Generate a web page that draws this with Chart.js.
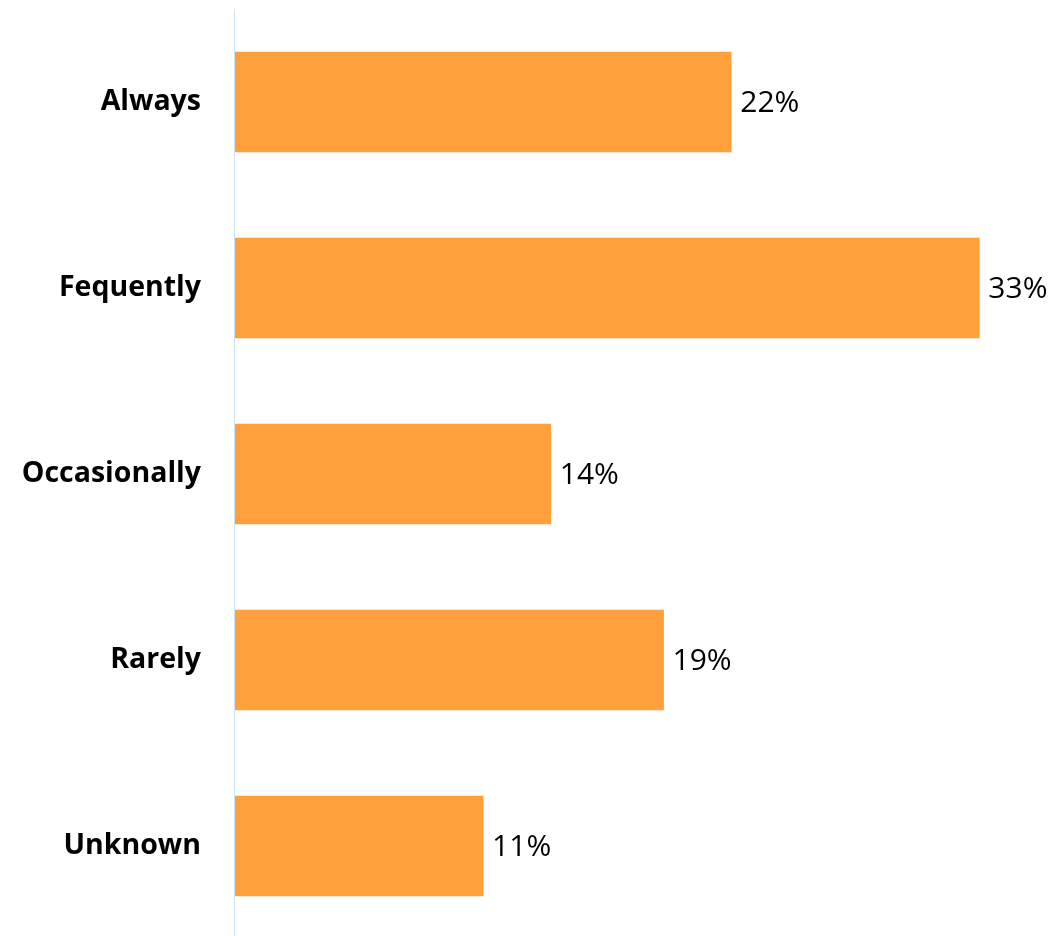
<!DOCTYPE html>
<html>
<head>
<meta charset="utf-8">
<title>Frequency</title>
<script src="https://cdn.jsdelivr.net/npm/chart.js@4/dist/chart.umd.min.js"></script>
<style>
  html, body { margin: 0; padding: 0; background: #ffffff; overflow: hidden; }
  #wrap { width: 1055px; height: 936px; overflow: hidden; }
  canvas { display: block; }
</style>
</head>
<body>
<div id="wrap"><canvas id="chart" width="1055" height="939"></canvas></div>
<script>
// Categories and their shares (percent)
const categories = ['Always', 'Fequently', 'Occasionally', 'Rarely', 'Unknown'];
const shares = [22, 33, 14, 19, 11];
const valueSuffix = '%';

const barColor = '#FFA03C';
const axisLineColor = '#CCE3F6';
const fontFamily = '"Open Sans", Lato, sans-serif';

// Thin vertical axis line just left of the bars' base
const axisLine = {
  id: 'axisLine',
  beforeDatasetsDraw(chart) {
    const { ctx, chartArea } = chart;
    ctx.save();
    ctx.strokeStyle = axisLineColor;
    ctx.lineWidth = 1;
    ctx.beginPath();
    ctx.moveTo(chartArea.left - 0.5, chartArea.top);
    ctx.lineTo(chartArea.left - 0.5, chart.height);
    ctx.stroke();
    ctx.restore();
  }
};

// Value labels to the right of each bar
const valueLabels = {
  id: 'valueLabels',
  afterDatasetsDraw(chart) {
    const { ctx } = chart;
    const meta = chart.getDatasetMeta(0);
    ctx.save();
    ctx.font = '30px ' + fontFamily;
    ctx.fillStyle = '#000000';
    ctx.textAlign = 'left';
    ctx.textBaseline = 'middle';
    meta.data.forEach((bar, i) => {
      const v = chart.data.datasets[0].data[i];
      ctx.fillText(v + valueSuffix, bar.x + 9, bar.y + 1);
    });
    ctx.restore();
  }
};

new Chart(document.getElementById('chart'), {
  type: 'bar',
  data: {
    labels: categories,
    datasets: [{
      data: shares,
      backgroundColor: barColor,
      borderWidth: 0,
      barThickness: 100
    }]
  },
  options: {
    indexAxis: 'y',
    responsive: false,
    devicePixelRatio: 1,
    animation: false,
    layout: { padding: { top: 9, bottom: 0, left: 0, right: 8 } },
    plugins: {
      legend: { display: false },
      tooltip: { enabled: false },
      title: { display: false }
    },
    scales: {
      x: {
        display: false,
        min: 0,
        max: 36
      },
      y: {
        grid: { display: false, drawTicks: false },
        border: { display: false },
        ticks: {
          padding: 34,
          color: '#000000',
          font: { family: fontFamily, size: 28.5, weight: 'bold' }
        },
        afterFit(scale) {
          scale.width = 235;
          scale.paddingTop = 0;
          scale.paddingBottom = 0;
        }
      }
    }
  },
  plugins: [axisLine, valueLabels]
});
</script>
</body>
</html>
